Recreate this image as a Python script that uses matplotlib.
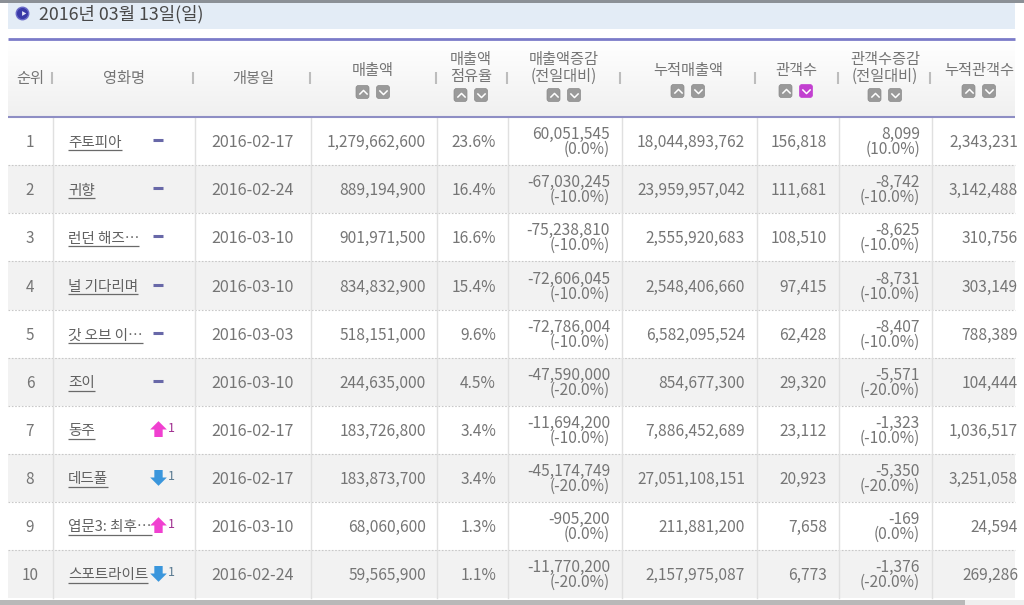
import numpy as np
import matplotlib
matplotlib.use("Agg")
import matplotlib.pyplot as plt
from matplotlib.patches import Rectangle, FancyBboxPatch
from matplotlib.path import Path

plt.rcParams['font.family'] = ['Noto Sans CJK KR', 'DejaVu Sans']

title = "2016년 03월 13일(일)"
ranks = [1, 2, 3, 4, 5, 6, 7, 8, 9, 10]
names = ["주토피아", "귀향", "런던 해즈…", "널 기다리며", "갓 오브 이…", "조이", "동주", "데드풀", "엽문3: 최후…", "스포트라이트"]
rank_change = [0, 0, 0, 0, 0, 0, 1, -1, 1, -1]
release = ["2016-02-17", "2016-02-24", "2016-03-10", "2016-03-10", "2016-03-03",
           "2016-03-10", "2016-02-17", "2016-02-17", "2016-03-10", "2016-02-24"]
sales = [1279662600, 889194900, 901971500, 834832900, 518151000,
         244635000, 183726800, 183873700, 68060600, 59565900]
share = [23.6, 16.4, 16.6, 15.4, 9.6, 4.5, 3.4, 3.4, 1.3, 1.1]
sales_diff = [60051545, -67030245, -75238810, -72606045, -72786004,
              -47590000, -11694200, -45174749, -905200, -11770200]
sales_pct = [0.0, -10.0, -10.0, -10.0, -10.0, -20.0, -10.0, -20.0, 0.0, -20.0]
sales_total = [18044893762, 23959957042, 2555920683, 2548406660, 6582095524,
               854677300, 7886452689, 27051108151, 211881200, 2157975087]
audience = [156818, 111681, 108510, 97415, 62428, 29320, 23112, 20923, 7658, 6773]
aud_diff = [8099, -8742, -8625, -8731, -8407, -5571, -1323, -5350, -169, -1376]
aud_pct = [10.0, -10.0, -10.0, -10.0, -10.0, -20.0, -10.0, -20.0, 0.0, -20.0]
aud_total = [2343231, 3142488, 310756, 303149, 788389, 104444, 1036517, 3251058, 24594, 269286]

headers = ["순위", "영화명", "개봉일", "매출액", "매출액\n점유율", "매출액증감\n(전일대비)",
           "누적매출액", "관객수", "관객수증감\n(전일대비)", "누적관객수"]
header_x = [30, 124, 253, 373, 471, 564, 688, 796, 885, 979]
header_y = [78.5, 78.5, 78.5, 70.5, 68, 68, 70.5, 70.5, 68, 70.5]
button_y = [None, None, None, 92, 95, 95, 91, 91, 95, 91]

TEXT = '#757575'
LEFT, RIGHT = 8, 1015
FS = 11.2
col_lines = [53, 195, 311, 437, 508, 622, 757, 839, 932]
head_seps = [52, 193, 310, 436, 507, 620, 755, 838, 930]
row_edges = [117, 165, 213, 261, 310, 358, 406, 454, 502, 550, 598]

fig = plt.figure(figsize=(10.24, 6.05), dpi=100)
ax = fig.add_axes([0, 0, 1, 1])
ax.set_xlim(0, 1024)
ax.set_ylim(605, 0)
ax.axis('off')
clip = Rectangle((0, 0), RIGHT, 605, transform=ax.transData)

# top bar and date band
ax.add_patch(Rectangle((0, 0), 1024, 2.5, color='#8b9096', lw=0))
ax.add_patch(Rectangle((LEFT, 2.5), RIGHT - LEFT, 26, color='#e3ecf6', lw=0))
ax.plot([22], [13], 'o', ms=9, color='#3a3aa8', mec='#6a6ac8', mew=1)
ax.plot([22.5], [13], marker=(3, 0, -90), ms=4, color='#e8e8f8', mew=0)
ax.text(39, 14, title, fontsize=12.8, color='#484848', va='center', ha='left')
ax.plot([LEFT, RIGHT], [38.5, 38.5], color='#7b7bc9', lw=2, solid_capstyle='butt')

# header gradient
grad = np.linspace(0, 1, 64).reshape(-1, 1)
ax.imshow(grad, extent=[LEFT, RIGHT, 117, 40], cmap=matplotlib.colors.LinearSegmentedColormap.from_list('h', ['#f0f0f0', '#ffffff']),
          aspect='auto', zorder=0, origin='lower')
ax.set_xlim(0, 1024)
ax.set_ylim(605, 0)

# row shading
for i in range(10):
    if i % 2 == 1:
        ax.add_patch(Rectangle((LEFT, row_edges[i]), RIGHT - LEFT, row_edges[i + 1] - row_edges[i], color='#f2f2f2', lw=0))
for y in row_edges[1:-1]:
    ax.plot([LEFT, RIGHT], [y, y], color='#c8c8c8', lw=0.8, ls=(0, (1.5, 1.5)))
for x in col_lines:
    ax.plot([x, x], [118, 598], color='#e0e0e0', lw=1)
ax.plot([LEFT, RIGHT], [117, 117], color='#8e8ec4', lw=1.5, solid_capstyle='butt')
for x in head_seps:
    ax.plot([x, x], [72, 84], color='#bdbdbd', lw=1.5, solid_capstyle='butt')

# header text
for h, x, y in zip(headers, header_x, header_y):
    ax.text(x, y, h, fontsize=11, color=TEXT, ha='center', va='center', linespacing=0.95, clip_on=True, clip_path=clip)

# sort buttons, marker paths have y pointing up
up_chev = Path([(-1, -0.5), (0, 0.5), (1, -0.5)], [Path.MOVETO, Path.LINETO, Path.LINETO])
down_chev = Path([(-1, 0.5), (0, -0.5), (1, 0.5)], [Path.MOVETO, Path.LINETO, Path.LINETO])
for j, y in enumerate(button_y):
    if y is None:
        continue
    x0 = header_x[j]
    for dx, chev in ((-10.5, up_chev), (10, down_chev)):
        c = '#c23fd0' if (headers[j] == "관객수" and dx > 0) else '#9a9a9a'
        ax.add_patch(FancyBboxPatch((x0 + dx - 5.5, y - 5.5), 11, 11, boxstyle='round,pad=1,rounding_size=2.5',
                                    fc=c, ec='#8a8a8a' if c == '#9a9a9a' else c, lw=0.5))
        ax.plot([x0 + dx], [y], marker=chev, ms=6, mfc='none', mec='white', mew=1.1, ls='none')

# arrow icons
arrow_up = Path([(0, 1), (1, 0), (0.5, 0), (0.5, -0.9), (-0.5, -0.9), (-0.5, 0), (-1, 0), (0, 1)])
arrow_down = Path([(0, -1), (1, 0), (0.5, 0), (0.5, 0.9), (-0.5, 0.9), (-0.5, 0), (-1, 0), (0, -1)])

fig.canvas.draw()
renderer = fig.canvas.get_renderer()

# table rows
for i in range(10):
    cy = (row_edges[i] + row_edges[i + 1]) / 2
    ty = cy + 1.5
    ax.text(30, ty, str(ranks[i]), fontsize=11, color=TEXT, ha='center', va='center')
    t = ax.text(68, ty, names[i], fontsize=10.5, color='#606060', ha='left', va='center')
    bb = t.get_window_extent(renderer)
    ax.plot([bb.x0, bb.x1], [cy + 8.5, cy + 8.5], color='#6a6a6a', lw=0.9, solid_capstyle='butt')
    if rank_change[i] == 0:
        ax.plot([153, 163], [cy - 1, cy - 1], color='#6868a8', lw=2.2, solid_capstyle='butt')
    else:
        up = rank_change[i] > 0
        ax.plot([158], [cy - 1], marker=arrow_up if up else arrow_down, ms=12,
                color='#f040d0' if up else '#3a96dc', mew=0, ls='none')
        ax.text(171, cy - 1, str(abs(rank_change[i])), fontsize=9, ha='center', va='center',
                color='#a03090' if up else '#5a7a90')
    ax.text(253, ty, release[i], fontsize=11.6, color=TEXT, ha='center', va='center')
    ax.text(426, ty, f"{sales[i]:,}", fontsize=FS, color=TEXT, ha='right', va='center')
    ax.text(496, ty, f"{share[i]}%", fontsize=FS, color=TEXT, ha='right', va='center')
    ax.text(610, ty - 8, f"{sales_diff[i]:,}", fontsize=FS, color=TEXT, ha='right', va='center')
    ax.text(610, ty + 7, f"({sales_pct[i]}%)", fontsize=FS, color=TEXT, ha='right', va='center')
    ax.text(745, ty, f"{sales_total[i]:,}", fontsize=FS, color=TEXT, ha='right', va='center')
    ax.text(827, ty, f"{audience[i]:,}", fontsize=FS, color=TEXT, ha='right', va='center')
    ax.text(920, ty - 8, f"{aud_diff[i]:,}", fontsize=FS, color=TEXT, ha='right', va='center')
    ax.text(920, ty + 7, f"({aud_pct[i]}%)", fontsize=FS, color=TEXT, ha='right', va='center')
    ax.text(1018, ty, f"{aud_total[i]:,}", fontsize=FS, color=TEXT, ha='right', va='center',
            clip_on=True, clip_path=clip)

# bottom scrollbar
ax.add_patch(Rectangle((0, 600), 1024, 5, color='#efefef', lw=0))
ax.add_patch(Rectangle((0, 600), 965, 5, color='#b8b8b8', lw=0))

fig.savefig('out.png', dpi=100)
